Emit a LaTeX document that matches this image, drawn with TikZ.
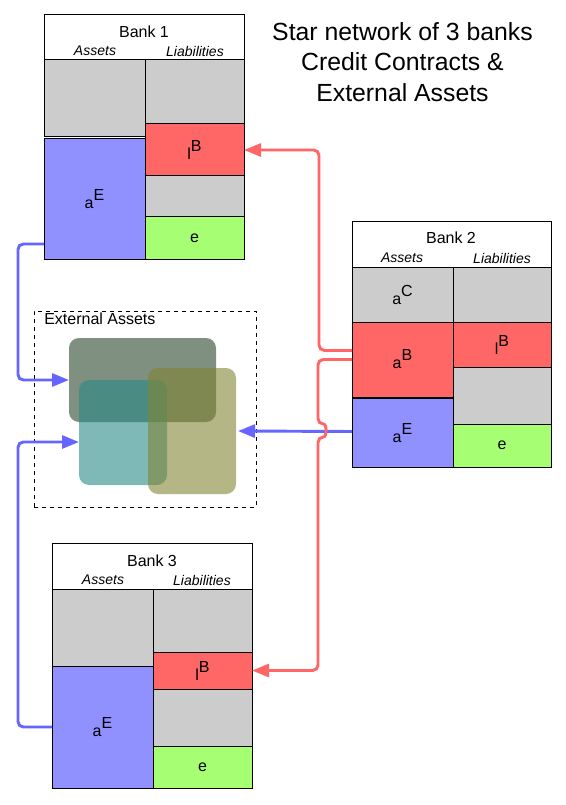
\documentclass[tikz,border=0pt]{standalone}
\usepackage{fontspec}
\setmainfont{Liberation Sans}
\usetikzlibrary{arrows.meta,calc}
\definecolor{cgray}{HTML}{CCCCCC}
\definecolor{cred}{HTML}{FF6666}
\definecolor{cblue}{HTML}{9090FF}
\definecolor{cgreen}{HTML}{A6FF73}
\definecolor{lblue}{HTML}{6666FF}
\definecolor{lred}{HTML}{FF6666}
\definecolor{cdark}{RGB}{72,95,74}
\definecolor{cteal}{RGB}{40,137,135}
\definecolor{colive}{RGB}{130,133,53}
\begin{document}
\begin{tikzpicture}[x=0.75pt, y=-0.75pt,
    cell/.style 2 args={draw, line width=0.75pt, inner sep=0pt, outer sep=0pt, anchor=north west,
      minimum width={#1*0.75pt}, minimum height={#2*0.75pt}, font=\fontsize{12}{14}\selectfont},
    pool/.style 2 args={inner sep=0pt, outer sep=0pt, anchor=north west, rounded corners=7.5pt,
      minimum width={#1*0.75pt}, minimum height={#2*0.75pt}},
    bankname/.style={font=\fontsize{12}{14}\selectfont},
    colname/.style={font=\fontsize{10.5}{12}\selectfont\itshape},
    blueline/.style={draw=lblue, line width=2.2pt, rounded corners=4pt, -{Triangle[length=12.75pt, width=9.75pt]}},
    redline/.style={draw=lred, line width=2.2pt, rounded corners=4pt, -{Triangle[length=12.75pt, width=9.75pt]}}]
  \useasboundingbox (0,0) rectangle (566,805);
  % title
  \node[align=center, font=\fontsize{18.6}{22.9}\selectfont] (title) at (402.5,62)
    {Star network of 3 banks\\Credit Contracts \&\\External Assets};
  % bank 1
  \node[cell={200}{45}] (b1) at (44,15) {};
  \node[bankname] (b1t) at (144,32) {Bank 1};
  \node[colname] (b1a) at (95,51) {Assets};
  \node[colname] (b1l) at (195,51) {Liabilities};
  \node[cell={101}{77}, fill=cgray] (b1g1) at (44,60) {};
  \node[cell={101}{121.5}, fill=cblue] (b1aE) at (44,138.5) {a\raisebox{6pt}{E}};
  \node[cell={99}{64}, fill=cgray] (b1g2) at (145,60) {};
  \node[cell={99}{52}, fill=cred] (b1lB) at (145,124) {l\raisebox{6pt}{B}};
  \node[cell={99}{41}, fill=cgray] (b1g3) at (145,176) {};
  \node[cell={99}{43}, fill=cgreen] (b1e) at (145,217) {e};
  % bank 2
  \node[cell={199}{45}] (b2) at (352,222) {};
  \node[bankname] (b2t) at (451,238) {Bank 2};
  \node[colname] (b2a) at (402,258) {Assets};
  \node[colname] (b2l) at (502,258) {Liabilities};
  \node[cell={101}{55}, fill=cgray] (b2aC) at (352,267) {a\raisebox{6pt}{C}};
  \node[cell={101}{75}, fill=cred] (b2aB) at (352,322) {a\raisebox{6pt}{B}};
  \node[cell={101}{69}, fill=cblue] (b2aE) at (352,398.5) {a\raisebox{6pt}{E}};
  \node[cell={98}{55}, fill=cgray] (b2g1) at (453,267) {};
  \node[cell={98}{45}, fill=cred] (b2lB) at (453,322) {l\raisebox{6pt}{B}};
  \node[cell={98}{57}, fill=cgray] (b2g2) at (453,367) {};
  \node[cell={98}{43}, fill=cgreen] (b2e) at (453,424) {e};
  % bank 3
  \node[cell={200}{46}] (b3) at (52,543) {};
  \node[bankname] (b3t) at (152,561) {Bank 3};
  \node[colname] (b3a) at (103,580) {Assets};
  \node[colname] (b3l) at (202,580) {Liabilities};
  \node[cell={101}{77}, fill=cgray] (b3g1) at (52,589) {};
  \node[cell={101}{122}, fill=cblue] (b3aE) at (52,666) {a\raisebox{6pt}{E}};
  \node[cell={99}{63}, fill=cgray] (b3g2) at (153,589) {};
  \node[cell={99}{37}, fill=cred] (b3lB) at (153,652) {l\raisebox{6pt}{B}};
  \node[cell={99}{57}, fill=cgray] (b3g3) at (153,689) {};
  \node[cell={99}{42}, fill=cgreen] (b3e) at (153,746) {e};
  % external assets
  \node[cell={222}{196}, dashed] (ext) at (34,311) {};
  \node[anchor=west, inner sep=0pt, font=\fontsize{12}{14}\selectfont] (extl) at (44,319) {External Assets};
  \node[pool={147}{84}, fill=cdark, fill opacity=0.7] (dark) at (69,338) {};
  \node[pool={88}{105}, fill=cteal, fill opacity=0.6] (teal) at (79,380) {};
  \node[pool={88}{126}, fill=colive, fill opacity=0.6] (olive) at (148,368) {};
  \coordinate (tealin) at ($(teal.west)+(0,9.5)$);
  \coordinate (olivein) at ($(olive.east)+(2,0)$);
  % external asset links
  \draw[blueline] ($(b1aE.south west)+(0,-16)$) -| (18,380) -- (dark.west);
  \draw[blueline] (b3aE.west) -| (18,442) -- (tealin);
  \draw[blueline] ($(b2aE.west)+(0,-1.5)$) -- (olivein);
  % credit links
  \draw[redline] ($(b2aB.west)+(0,-9)$) -| (319,150) -- (b1lB.east);
  \draw[redline] (b2aB.west) -- (318,359.5) -- (318,424)
    .. controls (327,424) and (327,437) .. (318,437) -- (318,670.5) -- (b3lB.east);
\end{tikzpicture}
\end{document}
